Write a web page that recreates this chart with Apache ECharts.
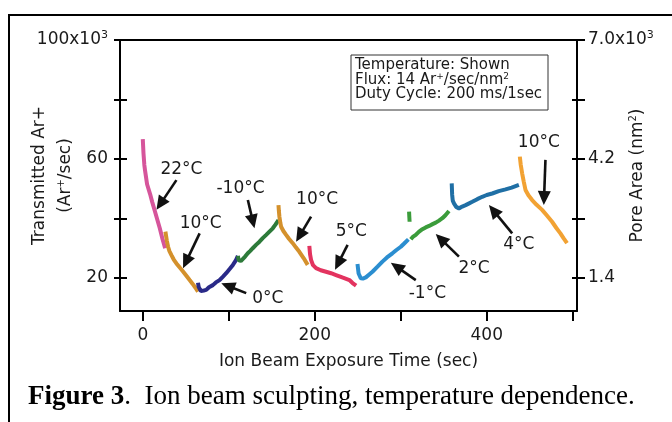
<!DOCTYPE html>
<html>
<head>
<meta charset="utf-8">
<script src="https://cdn.jsdelivr.net/npm/echarts@6/dist/echarts.min.js"></script>
<style>html,body{margin:0;padding:0;background:#fff;}#c{width:672px;height:422px;}</style>
</head>
<body>
<div id="c"></div>
<script>
// ---- data (time in sec, transmitted Ar+ in 10^3/sec) ----
const s22C  = [[0,66.7],[0.8,62],[1.8,58],[2.7,56],[5,51.5],[8.5,48.2],[11,45.5],[14,42.5],[17,39.5],[19.7,36.8],[23,33],[26,30]];
const s10Ca = [[26.3,35.6],[28,32.5],[29.4,30.5],[31,29],[33.3,27.7],[36,26.2],[39.1,24.9],[43,23.5],[46.8,22.2],[50,21],[54.5,19.3],[58,18],[61,16.8],[64.2,15.4]];
const s0C   = [[64.2,18.4],[65,17],[66.1,16.5],[67.5,15.6],[69.2,15.4],[71,15.8],[73.8,16.0],[77,16.9],[81.5,17.6],[85,18.5],[89.3,19.3],[93,20.4],[97,21.6],[101,23],[104.8,24.4],[108,25.8],[110.6,27.4]];
const sM10C = [[110.6,27.4],[111.5,26],[112.5,25.5],[114,25.7],[116.3,26.1],[119,27.2],[122.1,28.3],[125,29.1],[127.9,30.0],[132,31.2],[135.7,32.2],[139.5,33.4],[143.5,34.5],[147,35.5],[151.2,36.7],[154.5,38],[157.8,39.5]];
const s10Cb = [[157.8,44.5],[158.3,42.5],[158.9,40.6],[160,38.5],[160.9,37.2],[163.5,35.8],[166.7,34.5],[170,33.2],[174.4,31.7],[178,30.3],[182.1,28.8],[187,26.7],[191.8,24.4]];
const s5C   = [[193.7,30.8],[194.5,28],[195.7,26.1],[198,24.3],[201.5,23.3],[207,22.6],[213.1,22.1],[219,21.6],[224.7,21.0],[232,20.2],[240.3,19.3],[244,18.3],[248.1,17.4]];
const sM1C  = [[249.7,24.7],[251,21.5],[253.6,19.9],[256,19.8],[259.4,20.2],[263,21.1],[267.1,22.1],[273,23.8],[278.7,25.5],[284,26.9],[290.3,28.3],[295,29.4],[300.1,30.5],[304,31.6],[308.9,33.0]];
const s2Cblip = [[309.7,42.3],[310,40.5],[310.3,38.9]];
const s2C   = [[311.7,33.0],[314,33.8],[317.5,34.5],[321,35.5],[325.2,36.4],[329,37.0],[333,37.5],[337,38.1],[340.7,38.6],[344.5,39.3],[348.4,40.1],[352,41.1],[356.1,42.5]];
const s4C   = [[359.3,51.8],[359.8,48],[360.5,46],[361.9,45.1],[364.5,43.9],[367.7,43.4],[371.5,44.0],[375.5,44.5],[379,45.0],[383.2,45.6],[389,46.5],[394.8,47.3],[400,47.9],[406.4,48.4],[414,49.2],[421.9,49.8],[429,50.4],[437.4,51.3]];
const s10Cc = [[438.5,60.8],[439.5,58.2],[441.2,55.2],[443,52.5],[445.1,49.6],[448.5,47.8],[452.8,46.2],[458,44.6],[464.4,42.9],[470,41.0],[476,38.9],[481,36.8],[485.7,35.0],[489.5,33.3],[493.4,31.7]];

// annotation text [label, x, y] and arrows [x1, y1, x2(tip), y2(tip)]
const tempLabels = [['22°C',44.9,56.5],['10°C',67.3,38.2],['-10°C',113.7,50.2],['0°C',145.4,13.2],['10°C',202.7,46.2],['5°C',242.5,35.6],['-1°C',331,14.9],['2°C',385.2,23.3],['4°C',437.4,31.1],['10°C',460.6,65.4]];
const tempArrows = [[39.1,52.9,15.9,42.9],[66.1,35.0,46.8,23.3],[122.2,46.2,129.9,36.7],[120.3,14.9,91.3,18.2],[195.7,40.6,178.3,32.2],[238.2,31.1,223.6,22.8],[317.5,19.3,288.5,25.1],[367.7,27.2,340.7,34.8],[429.6,35.0,402.6,44.5],[468.3,59.7,466.4,44.5]];

// axis ticks
const xTicks = [0,100,200,300,400,500];
const xLabels = [0,200,400];
const yTicks = [20,40,60,80,100];
const yLabels = [20,60,100];
const y2Ticks = [1.4,2.8,4.2,5.6,7.0];
const y2Labels = [1.4,4.2,7.0];

const X_MIN = -26.5, X_MAX = 505, Y_MIN = 8.9, Y_MAX = 100;
const AREA_PER_COUNT = 0.07;

const FONT = 'DejaVu Sans';
const TXT = '#1a1a1a';
const sup = {fontSize: 11, fontFamily: FONT, color: TXT, padding: [0,0,9,0]};

const segs = [
  [s22C,'#d6559b'],[s10Ca,'#d4912c'],[s0C,'#2a2a88'],[sM10C,'#2d7a3a'],[s10Cb,'#d4912c'],
  [s5C,'#e3335f'],[sM1C,'#2b8ed0'],[s2Cblip,'#3b9c3b'],[s2C,'#3b9c3b'],[s4C,'#1f6fa5'],[s10Cc,'#f2a233']
];

const series = segs.map(([d,c]) => ({
  type:'line', data:d, showSymbol:false, smooth:false,
  lineStyle:{color:c, width:4}, itemStyle:{color:c}, xAxisIndex:0, yAxisIndex:0, silent:true
}));
series.push({
  type:'custom', coordinateSystem:'cartesian2d', xAxisIndex:0, yAxisIndex:0, silent:true,
  data: tempArrows, dimensions:['x1','y1','x2','y2'], encode:{x:[0,2], y:[1,3]},
  renderItem:(params, api) => {
    const p1 = api.coord([api.value(0), api.value(1)]);
    const p2 = api.coord([api.value(2), api.value(3)]);
    const dx = p2[0]-p1[0], dy = p2[1]-p1[1];
    const len = Math.sqrt(dx*dx+dy*dy), ux = dx/len, uy = dy/len;
    const hl = 14, hw = 6.5;
    const b = [p2[0]-ux*hl, p2[1]-uy*hl];
    return {type:'group', children:[
      {type:'line', shape:{x1:p1[0], y1:p1[1], x2:b[0]+ux*2, y2:b[1]+uy*2}, style:{stroke:'#111', lineWidth:2.6}},
      {type:'polygon', shape:{points:[p2,[b[0]-uy*hw, b[1]+ux*hw],[b[0]+uy*hw, b[1]-ux*hw]]}, style:{fill:'#111'}}
    ]};
  }
});
series.push({
  type:'custom', coordinateSystem:'cartesian2d', xAxisIndex:0, yAxisIndex:0, silent:true,
  data: tempLabels.map(l => [l[1], l[2]]),
  renderItem:(params, api) => {
    const p = api.coord([api.value(0), api.value(1)]);
    return {type:'text', x:p[0], y:p[1], style:{text:tempLabels[params.dataIndex][0], fontSize:17, fontFamily:FONT,
      fill:TXT, align:'center', verticalAlign:'middle'}};
  }
});

const axLine = {show:true, onZero:false, lineStyle:{color:'#000', width:2}};
const option = {
  animation:false,
  backgroundColor:'#fff',
  grid:{left:120, right:95, top:40, bottom:111, containLabel:false, outerBoundsMode:'none'},
  xAxis:[
    {type:'value', position:'bottom', min:X_MIN, max:X_MAX, axisLine:axLine, splitLine:{show:false},
     axisTick:{show:true, length:10, customValues:xTicks, lineStyle:{color:'#000', width:2}},
     axisLabel:{customValues:xLabels, margin:16, fontSize:17, fontFamily:FONT, color:TXT},
     name:'Ion Beam Exposure Time (sec)', nameLocation:'middle', nameGap:42, nameMoveOverlap:false,
     nameTextStyle:{fontSize:17, fontFamily:FONT, color:TXT}},
    {type:'value', position:'top', min:X_MIN, max:X_MAX, axisLine:axLine, axisTick:{show:false}, axisLabel:{show:false}, splitLine:{show:false}}
  ],
  yAxis:[
    {type:'value', position:'left', min:Y_MIN, max:Y_MAX, axisLine:axLine, splitLine:{show:false},
     axisTick:{show:true, length:6, customValues:yTicks, lineStyle:{color:'#000', width:2}},
     axisLabel:{customValues:yLabels, margin:12, fontSize:17, fontFamily:FONT, color:TXT,
       formatter:v => v===100 ? '100x10{sup|3}' : String(v), rich:{sup}},
     name:'Transmitted Ar+\n(Ar{sup|+}/sec)', nameLocation:'middle', nameGap:41, nameRotate:90, nameMoveOverlap:false,
     nameTextStyle:{fontSize:17, fontFamily:FONT, color:TXT, lineHeight:26, align:'center', rich:{sup:Object.assign({},sup,{fontSize:10})}}},
    {type:'value', position:'right', min:Y_MIN*AREA_PER_COUNT, max:Y_MAX*AREA_PER_COUNT, axisLine:axLine, splitLine:{show:false},
     axisTick:{show:true, length:8, customValues:y2Ticks, lineStyle:{color:'#000', width:2}},
     axisLabel:{customValues:y2Labels, margin:11, fontSize:17, fontFamily:FONT, color:TXT,
       formatter:v => Math.abs(v-7)<1e-6 ? '7.0x10{sup|3}' : v.toFixed(1), rich:{sup}},
     name:'Pore Area (nm{sup|2})', nameLocation:'middle', nameGap:51, nameRotate:90, nameMoveOverlap:false,
     nameTextStyle:{fontSize:17, fontFamily:FONT, color:TXT, rich:{sup:Object.assign({},sup,{fontSize:10})}}},
    {type:'value', position:'left', min:Y_MIN, max:Y_MAX, axisLine:{show:false, onZero:false}, splitLine:{show:false}, axisLabel:{show:false},
     axisTick:{show:true, inside:true, length:7, customValues:yTicks, lineStyle:{color:'#000', width:2}}},
    {type:'value', position:'right', min:Y_MIN*AREA_PER_COUNT, max:Y_MAX*AREA_PER_COUNT, axisLine:{show:false, onZero:false}, splitLine:{show:false}, axisLabel:{show:false},
     axisTick:{show:true, inside:true, length:5, customValues:y2Ticks, lineStyle:{color:'#000', width:2}}}
  ],
  graphic:[
    {type:'polyline', shape:{points:[[9,422],[9,15],[672,15]]}, style:{stroke:'#000', lineWidth:2, fill:null}, silent:true},
    {type:'rect', shape:{x:351, y:55, width:197, height:55}, style:{stroke:'#333', lineWidth:1, fill:'#fff'}, silent:true},
    {type:'text', x:355, y:58, silent:true, style:{
      text:'Temperature: Shown\nFlux: 14 Ar{s|+}/sec/nm{s|2}\nDuty Cycle: 200 ms/1sec',
      fontSize:15, fontFamily:FONT, fill:TXT, lineHeight:14.5,
      rich:{s:{fontSize:9, fontFamily:FONT, fill:TXT, padding:[0,0,7,0]}}}},
    {type:'text', x:28, y:397, silent:true, style:{
      text:'{b|Figure 3}.  Ion beam sculpting, temperature dependence.',
      fontSize:27, fontFamily:'Liberation Serif', fill:'#000', verticalAlign:'middle',
      rich:{b:{fontSize:27, fontFamily:'Liberation Serif', fontWeight:'bold', fill:'#000'}}}}
  ],
  series
};
const chart = echarts.init(document.getElementById('c'), null, {renderer:'canvas'});
chart.setOption(option);
</script>
</body>
</html>
